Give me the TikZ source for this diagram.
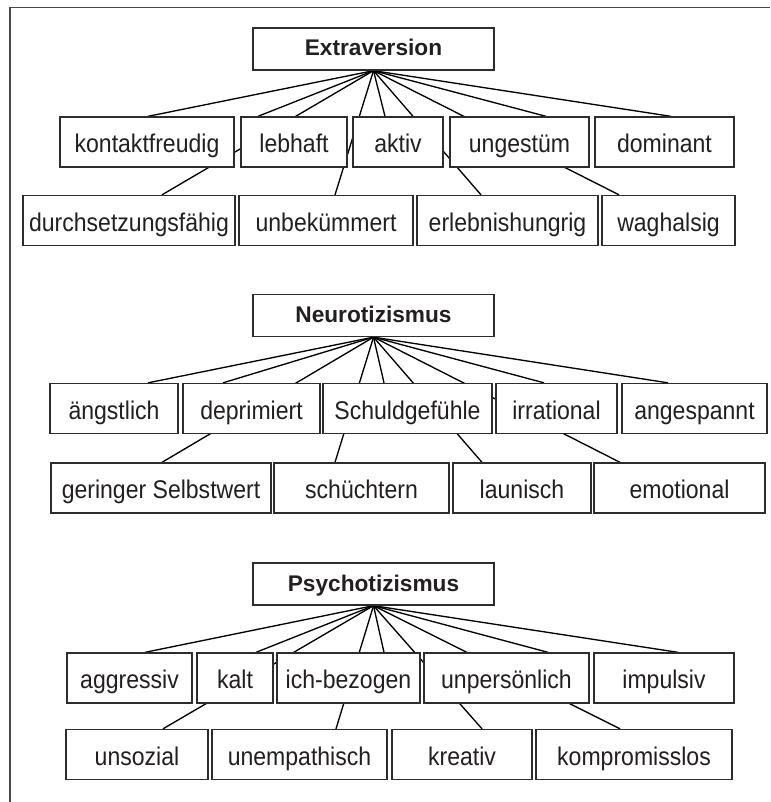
\documentclass[tikz,border=0pt]{standalone}
\usepackage{fontspec}
\setmainfont{Liberation Sans}[FakeStretch=0.9]
\newfontfamily\factorfont{Liberation Sans}
\usetikzlibrary{backgrounds}

\definecolor{boxline}{RGB}{45,45,45}
\definecolor{framegray}{RGB}{70,70,70}
\definecolor{inktext}{RGB}{35,31,32}

\tikzset{every picture/.style={line width=0.75pt}}
\tikzset{
  trait/.style={draw=boxline, line width=1pt, fill=white, text=inktext, inner xsep=2pt, inner ysep=0pt,
    minimum height=37.5pt, text height=17pt, text depth=1pt, font=\fontsize{19.2}{22}\selectfont},
  factor/.style={trait, minimum height=31.5pt, minimum width=180.75pt, text height=11.5pt, text depth=1pt,
    font=\factorfont\fontsize{17}{20}\selectfont\bfseries},
  link/.style={draw=black, line width=1pt}
}

\begin{document}
\begin{tikzpicture}[x=0.75pt,y=0.75pt,yscale=-1,xscale=1]
\useasboundingbox (0,0) rectangle (770,802);

%Shape: Frame
\draw [color=framegray, line width=1pt] (770,7.5) -- (10,7.5) -- (10,802) ;

%%% Extraversion
% Text Node
\draw (373.5,49) node [factor] (ext) {Extraversion};
% Text Node
\draw (147,142) node [trait, minimum width=130.5pt] (kontakt) {kontaktfreudig};
% Text Node
\draw (294,142) node [trait, minimum width=79.5pt] (lebhaft) {lebhaft};
% Text Node
\draw (398,142) node [trait, minimum width=67.5pt] (aktiv) {aktiv};
% Text Node
\draw (519.5,142) node [trait, minimum width=104.25pt] (ungestuem) {ungestüm};
% Text Node
\draw (664.5,142) node [trait, minimum width=104.25pt] (dominant) {dominant};
% Text Node
\draw (129,220.5) node [trait, minimum width=159pt] (durchsetz) {durchsetzungsfähig};
% Text Node
\draw (326,220.5) node [trait, minimum width=130.5pt] (unbek) {unbekümmert};
% Text Node
\draw (507.5,220.5) node [trait, minimum width=135.75pt] (erlebnis) {erlebnishungrig};
% Text Node
\draw (668.5,220.5) node [trait, minimum width=99.75pt] (waghalsig) {waghalsig};

%%% Neurotizismus
% Text Node
\draw (373.5,315.5) node [factor] (neuro) {Neurotizismus};
% Text Node
\draw (114,408.5) node [trait, minimum width=96pt] (aengstlich) {ängstlich};
% Text Node
\draw (251.5,408.5) node [trait, minimum width=102.75pt] (deprimiert) {deprimiert};
% Text Node
\draw (407.5,408.5) node [trait, minimum width=126.75pt] (schuld) {Schuldgefühle};
% Text Node
\draw (556.5,408.5) node [trait, minimum width=90.75pt] (irrational) {irrational};
% Text Node
\draw (694.5,408.5) node [trait, minimum width=108.75pt] (angespannt) {angespannt};
% Text Node
\draw (161,488) node [trait, minimum width=165pt] (selbstwert) {geringer Selbstwert};
% Text Node
\draw (361.5,488) node [trait, minimum width=131.25pt] (schuechtern) {schüchtern};
% Text Node
\draw (522,488) node [trait, minimum width=103.5pt] (launisch) {launisch};
% Text Node
\draw (679.5,488) node [trait, minimum width=128.25pt] (emotional) {emotional};

%%% Psychotizismus
% Text Node
\draw (373.5,584) node [factor] (psycho) {Psychotizismus};
% Text Node
\draw (129.5,678) node [trait, minimum width=93.75pt] (aggressiv) {aggressiv};
% Text Node
\draw (235,678) node [trait, minimum width=57pt] (kalt) {kalt};
% Text Node
\draw (348.5,678) node [trait, minimum width=107.25pt] (ichbezogen) {ich-bezogen};
% Text Node
\draw (506.5,678) node [trait, minimum width=123.75pt] (unpers) {unpersönlich};
% Text Node
\draw (664,678) node [trait, minimum width=105pt] (impulsiv) {impulsiv};
% Text Node
\draw (137,754.5) node [trait, minimum width=106.5pt] (unsozial) {unsozial};
% Text Node
\draw (299.5,754.5) node [trait, minimum width=131.25pt] (unempath) {unempathisch};
% Text Node
\draw (462,754.5) node [trait, minimum width=105pt] (kreativ) {kreativ};
% Text Node
\draw (634,754.5) node [trait, minimum width=147pt] (kompromiss) {kompromisslos};

% Straight Lines (behind the boxes)
\begin{scope}[on background layer]
\draw [link] (ext.south) -- (kontakt.north -| 148,0) ;
\draw [link] (ext.south) -- (lebhaft.north -| 258,0) ;
\draw [link] (ext.south) -- (durchsetz.north -| 162,0) ;
\draw [link] (ext.south) -- (unbek.north -| 335,0) ;
\draw [link] (ext.south) -- (aktiv.north -| 385,0) ;
\draw [link] (ext.south) -- (erlebnis.north -| 481,0) ;
\draw [link] (ext.south) -- (waghalsig.north -| 619,0) ;
\draw [link] (ext.south) -- (ungestuem.north -| 546,0) ;
\draw [link] (ext.south) -- (dominant.north -| 671,0) ;

\draw [link] (neuro.south) -- (aengstlich.north -| 148,0) ;
\draw [link] (neuro.south) -- (deprimiert.north -| 223,0) ;
\draw [link] (neuro.south) -- (selbstwert.north -| 162,0) ;
\draw [link] (neuro.south) -- (schuechtern.north -| 335,0) ;
\draw [link] (neuro.south) -- (schuld.north -| 384,0) ;
\draw [link] (neuro.south) -- (launisch.north -| 482,0) ;
\draw [link] (neuro.south) -- (emotional.north -| 620,0) ;
\draw [link] (neuro.south) -- (irrational.north -| 544,0) ;
\draw [link] (neuro.south) -- (angespannt.north -| 668,0) ;

\draw [link] (psycho.south) -- (aggressiv.north -| 145,0) ;
\draw [link] (psycho.south) -- (kalt.north -| 256,0) ;
\draw [link] (psycho.south) -- (unsozial.north -| 163,0) ;
\draw [link] (psycho.south) -- (unempath.north -| 336,0) ;
\draw [link] (psycho.south) -- (ichbezogen.north -| 384,0) ;
\draw [link] (psycho.south) -- (kreativ.north -| 482,0) ;
\draw [link] (psycho.south) -- (kompromiss.north -| 620,0) ;
\draw [link] (psycho.south) -- (unpers.north -| 548,0) ;
\draw [link] (psycho.south) -- (impulsiv.north -| 678,0) ;
\end{scope}

\end{tikzpicture}
\end{document}
